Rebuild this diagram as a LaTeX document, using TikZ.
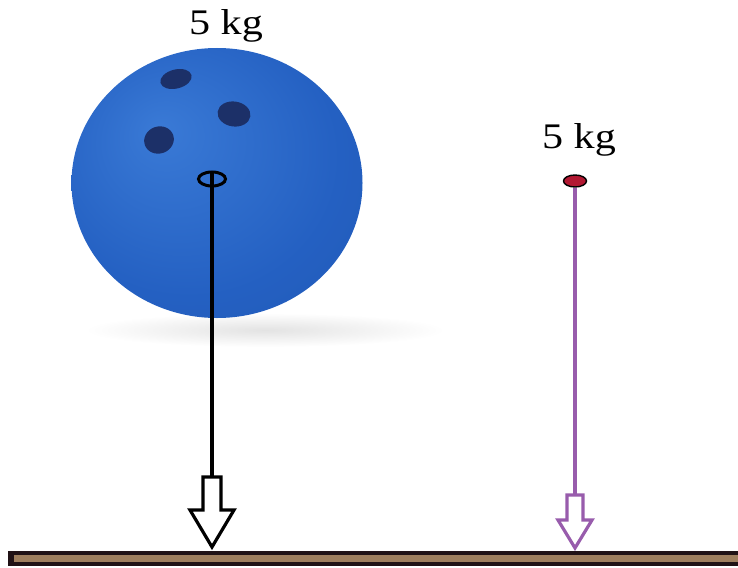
\documentclass[tikz,border=0pt]{standalone}
\usepackage{fontspec}
\setmainfont{Liberation Serif}
\usetikzlibrary{shapes.geometric}

\definecolor{ballhi}{RGB}{58,122,214}
\definecolor{ballblue}{RGB}{36,96,194}
\definecolor{balldark}{RGB}{24,66,156}
\definecolor{holeblue}{RGB}{28,48,104}
\definecolor{massred}{RGB}{178,24,50}
\definecolor{forcepurple}{RGB}{152,92,172}
\definecolor{groundbrown}{RGB}{158,126,94}
\definecolor{grounddark}{RGB}{32,18,22}

% bowling ball body: slightly lighter towards the upper left
\pgfdeclareradialshading{bowling}{\pgfpoint{-10bp}{10bp}}{%
  color(0bp)=(ballhi); color(26bp)=(ballblue); color(44bp)=(ballblue!92!black);
  color(50bp)=(balldark)}

\tikzset{
  masslabel/.style={anchor=base, inner sep=0pt, xscale=1.17,
    font=\fontsize{36}{36}\selectfont},
  hole/.style={fill=holeblue},
  forceline/.style={line width=3.4pt},
  pics/hollowarrow/.style n args={4}{code={
    % shaft half width, head half width, shaft length, tip depth
    \draw[line width=3.2pt, line join=miter, fill=white]
      (-#1,0) -- (-#1,#3) -- (-#2,#3) -- (0,#4) -- (#2,#3) -- (#1,#3) -- (#1,0) -- cycle;
  }}
}

\begin{document}
\begin{tikzpicture}[x=1pt,y=-1pt]
\useasboundingbox (0,0) rectangle (738,567);

% soft floor shadow under the ball
\shade[inner color=gray!22, outer color=white] (265,330) ellipse (180 and 17);

% the bowling ball
\node[ellipse, minimum width=291pt, minimum height=270pt, inner sep=0pt,
      shading=bowling] (ball) at (217,183) {};
\fill[hole, rotate around={14:(176,79)}] (176,79) ellipse (16 and 9.5);
\fill[hole, rotate around={-8:(234,114)}] (234,114) ellipse (16.5 and 12.5);
\fill[hole, rotate around={20:(159,140)}] (159,140) ellipse (15 and 13.5);

% centre of mass marks
\node[ellipse, draw=black, line width=3pt, minimum width=27pt, minimum height=14pt,
      inner sep=0pt] (com) at (212,179) {};
\node[ellipse, draw=black, line width=1.4pt, fill=massred, minimum width=23pt,
      minimum height=12pt, inner sep=0pt] (mass) at (575,181) {};

% labels
\node[masslabel] (lblball) at (226,35) {5 kg};
\node[masslabel] (lblmass) at (579,148) {5 kg};

% weight vectors
\coordinate (ballarrow) at (212,477);
\coordinate (massarrow) at (575,495);
\draw[forceline, black] (com.north) -- (ballarrow);
\pic at (ballarrow) {hollowarrow={9}{22}{33}{70}};
\draw[forceline, forcepurple] (mass.south) -- (massarrow);
\pic[forcepurple] at (massarrow) {hollowarrow={8}{17}{25}{53}};

% ground
\node[fill=grounddark, minimum width=730pt, minimum height=15pt, inner sep=0pt]
  (ground) at (373,558.5) {};
\fill[groundbrown] ([xshift=6pt,yshift=-3pt]ground.west) rectangle ([yshift=3.5pt]ground.east);
\end{tikzpicture}
\end{document}
